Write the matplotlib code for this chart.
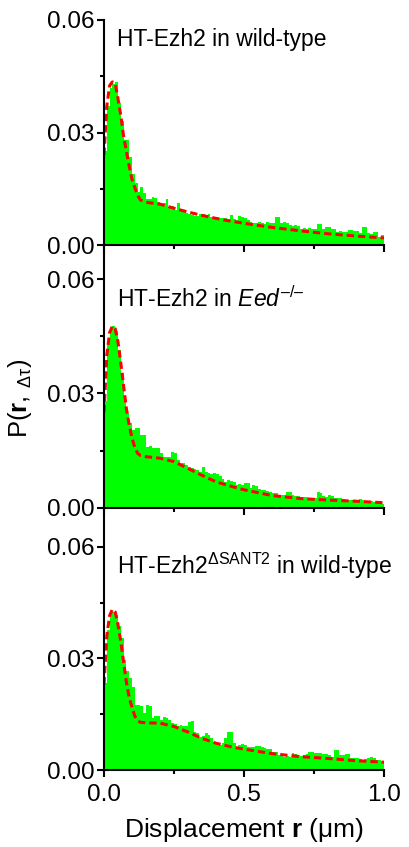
import numpy as np
import matplotlib as mpl
mpl.use('Agg')
import matplotlib.pyplot as plt
from matplotlib.ticker import FixedLocator, FormatStrFormatter

mpl.rcParams.update({
    'font.family': 'Liberation Sans',
    'mathtext.fontset': 'custom',
    'mathtext.rm': 'Liberation Sans',
    'mathtext.it': 'Liberation Sans:italic',
    'mathtext.bf': 'Liberation Sans:bold',
    'mathtext.default': 'regular',
    'axes.linewidth': 1.5,
})

# histogram bins (um), width 0.01
bin_edges = np.round(np.arange(0, 1.0001, 0.01), 2)

wt_hist = [
    0.0250, 0.0370, 0.0420, 0.0430, 0.0435, 0.0380, 0.0330, 0.0280, 0.0280, 0.0235,
    0.0190, 0.0165, 0.0142, 0.0156, 0.0138, 0.0124, 0.0124, 0.0129, 0.0126, 0.0116,
    0.0111, 0.0111, 0.0122, 0.0102, 0.0105, 0.0093, 0.0111, 0.0093, 0.0089, 0.0086,
    0.0084, 0.0080, 0.0078, 0.0077, 0.0083, 0.0084, 0.0080, 0.0084, 0.0076, 0.0072,
    0.0076, 0.0072, 0.0071, 0.0073, 0.0069, 0.0081, 0.0070, 0.0068, 0.0077, 0.0074,
    0.0071, 0.0066, 0.0061, 0.0060, 0.0058, 0.0062, 0.0059, 0.0057, 0.0061, 0.0058,
    0.0060, 0.0076, 0.0074, 0.0058, 0.0062, 0.0060, 0.0054, 0.0052, 0.0053, 0.0051,
    0.0044, 0.0045, 0.0043, 0.0045, 0.0042, 0.0044, 0.0056, 0.0055, 0.0043, 0.0049,
    0.0048, 0.0044, 0.0043, 0.0036, 0.0037, 0.0035, 0.0034, 0.0040, 0.0039, 0.0038,
    0.0037, 0.0033, 0.0049, 0.0047, 0.0031, 0.0030, 0.0035, 0.0034, 0.0022, 0.0027,
]
eed_hist = [
    0.0280, 0.0433, 0.0468, 0.0478, 0.0464, 0.0415, 0.0354, 0.0292, 0.0248, 0.0222,
    0.0205, 0.0209, 0.0209, 0.0191, 0.0191, 0.0160, 0.0162, 0.0156, 0.0156, 0.0156,
    0.0143, 0.0134, 0.0134, 0.0134, 0.0145, 0.0143, 0.0126, 0.0117, 0.0117, 0.0112,
    0.0108, 0.0104, 0.0101, 0.0099, 0.0095, 0.0106, 0.0095, 0.0090, 0.0088, 0.0090,
    0.0088, 0.0082, 0.0075, 0.0068, 0.0073, 0.0071, 0.0068, 0.0060, 0.0062, 0.0060,
    0.0064, 0.0064, 0.0053, 0.0060, 0.0058, 0.0050, 0.0047, 0.0046, 0.0044, 0.0040,
    0.0039, 0.0038, 0.0034, 0.0033, 0.0034, 0.0042, 0.0040, 0.0034, 0.0032, 0.0031,
    0.0029, 0.0029, 0.0028, 0.0026, 0.0025, 0.0026, 0.0040, 0.0039, 0.0030, 0.0029,
    0.0033, 0.0032, 0.0025, 0.0025, 0.0026, 0.0024, 0.0020, 0.0021, 0.0020, 0.0017,
    0.0019, 0.0022, 0.0020, 0.0018, 0.0018, 0.0017, 0.0016, 0.0015, 0.0012, 0.0011,
]
sant_hist = [
    0.0233, 0.0377, 0.0422, 0.0426, 0.0417, 0.0386, 0.0354, 0.0296, 0.0265, 0.0247,
    0.0224, 0.0175, 0.0175, 0.0172, 0.0153, 0.0175, 0.0172, 0.0139, 0.0144, 0.0146,
    0.0135, 0.0142, 0.0139, 0.0135, 0.0126, 0.0124, 0.0117, 0.0121, 0.0117, 0.0117,
    0.0130, 0.0132, 0.0103, 0.0099, 0.0090, 0.0092, 0.0099, 0.0094, 0.0085, 0.0076,
    0.0072, 0.0067, 0.0072, 0.0085, 0.0103, 0.0103, 0.0072, 0.0063, 0.0068, 0.0070,
    0.0067, 0.0062, 0.0061, 0.0061, 0.0065, 0.0064, 0.0061, 0.0060, 0.0057, 0.0056,
    0.0049, 0.0048, 0.0041, 0.0040, 0.0036, 0.0037, 0.0036, 0.0045, 0.0044, 0.0039,
    0.0038, 0.0040, 0.0043, 0.0049, 0.0048, 0.0045, 0.0047, 0.0046, 0.0044, 0.0043,
    0.0040, 0.0036, 0.0054, 0.0055, 0.0040, 0.0041, 0.0043, 0.0042, 0.0031, 0.0031,
    0.0031, 0.0029, 0.0028, 0.0030, 0.0031, 0.0034, 0.0033, 0.0027, 0.0026, 0.0025,
]

# fitted model curves (red dashed)
fit_x = [0, 0.01, 0.02, 0.03, 0.04, 0.05, 0.06, 0.07, 0.08, 0.09, 0.10, 0.11, 0.12,
         0.13, 0.15, 0.20, 0.25, 0.30, 0.35, 0.40, 0.45, 0.50, 0.60, 0.70, 0.80, 0.90, 1.0]
wt_fit = [0.0240, 0.0370, 0.0425, 0.0435, 0.0430, 0.0390, 0.0345, 0.0290, 0.0250,
          0.0210, 0.0175, 0.0153, 0.0133, 0.0120, 0.0114, 0.0109, 0.0098, 0.0088,
          0.0079, 0.0071, 0.0064, 0.0058, 0.0047, 0.0038, 0.0030, 0.0024, 0.0019]
eed_fit = [0.0250, 0.0400, 0.0460, 0.0477, 0.0470, 0.0435, 0.0380, 0.0320, 0.0260,
           0.0217, 0.0183, 0.0158, 0.0143, 0.0137, 0.0134, 0.0130, 0.0121, 0.0103,
           0.0085, 0.0068, 0.0057, 0.0047, 0.0032, 0.0024, 0.0020, 0.0017, 0.0013]
sant_fit = [0.0230, 0.0360, 0.0415, 0.0432, 0.0425, 0.0390, 0.0345, 0.0290, 0.0236,
            0.0195, 0.0168, 0.0145, 0.0133, 0.0128, 0.0127, 0.0126, 0.0117, 0.0102,
            0.0085, 0.0072, 0.0063, 0.0056, 0.0044, 0.0036, 0.0031, 0.0025, 0.0021]

titles = ['HT-Ezh2 in wild-type',
          'HT-Ezh2 in $\\mathit{Eed}^{\\mathit{\u2013/\u2013}}$',
          'HT-Ezh2$^{\\Delta SANT2}$ in wild-type']
hists = [wt_hist, eed_hist, sant_hist]
fits = [wt_fit, eed_fit, sant_fit]
ytops = [0.06, 0.069, 0.0705]

fig = plt.figure(figsize=(4.09, 8.47), dpi=100)
rects = [[0.2543, 0.7107, 0.6846, 0.2657],
         [0.2543, 0.4006, 0.6846, 0.3101],
         [0.2543, 0.0909, 0.6846, 0.3097]]

for i in range(3):
    ax = fig.add_axes(rects[i])
    ax.stairs(hists[i], bin_edges, fill=True, color='#00ff00', linewidth=0)
    ax.plot(fit_x, fits[i], color='#ff0000', linestyle=(0, (2.4, 1.3)), linewidth=2.2)
    ax.set_xlim(0, 1.0)
    ax.set_ylim(0, ytops[i])
    ax.spines['top'].set_visible(False)
    ax.spines['right'].set_visible(False)
    ax.xaxis.set_major_locator(FixedLocator([0, 0.5, 1.0]))
    ax.xaxis.set_minor_locator(FixedLocator([0.25, 0.75]))
    ax.yaxis.set_major_locator(FixedLocator([0, 0.03, 0.06]))
    ax.yaxis.set_minor_locator(FixedLocator([0.015, 0.045]))
    ax.yaxis.set_major_formatter(FormatStrFormatter('%.2f'))
    ax.xaxis.set_major_formatter(FormatStrFormatter('%.1f'))
    ax.tick_params(which='major', direction='out', length=5, width=1.5, labelsize=17.5, pad=2)
    ax.tick_params(axis='x', which='major', pad=5)
    ax.tick_params(which='minor', direction='out', length=3, width=1.5)
    ax.patch.set_alpha(0)
    if i < 2:
        ax.tick_params(axis='x', labelbottom=False)
    ax.text(0.046, 0.0548, titles[i], fontsize=16.5, va='center', ha='left')
    if i == 2:
        ax.set_xlabel(r'Displacement $\mathbf{r}$ ($\mu$m)', fontsize=19, labelpad=7)

fig.text(0.049, 0.5295, r'P($\mathbf{r}$, $_{\Delta\tau}$)', rotation=90,
         ha='center', va='center', fontsize=18.5)

fig.savefig('out.png', dpi=100)
